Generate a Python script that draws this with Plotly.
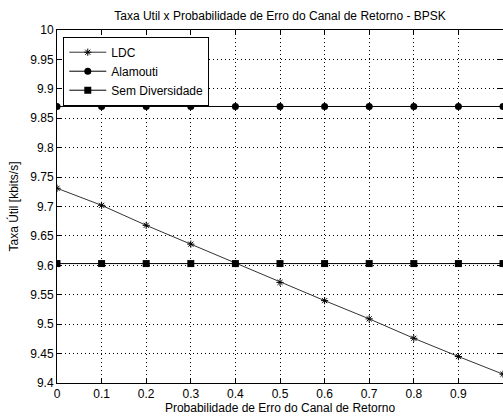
import plotly.graph_objects as go

# Feedback-channel error probability
prob_erro = [0.0, 0.1, 0.2, 0.3, 0.4, 0.5, 0.6, 0.7, 0.8, 0.9, 1.0]

# Useful rate [kbits/s] for each scheme
taxa_ldc = [9.731, 9.702, 9.668, 9.636, 9.603, 9.571, 9.540, 9.509, 9.476, 9.445, 9.415]
taxa_alamouti = [9.87] * 11
taxa_sem_div = [9.603] * 11

x_ticks = [0, 0.1, 0.2, 0.3, 0.4, 0.5, 0.6, 0.7, 0.8, 0.9, 1]
x_labels = ["0", "0.1", "0.2", "0.3", "0.4", "0.5", "0.6", "0.7", "0.8", "0.9", "1"]
y_ticks = [9.4, 9.45, 9.5, 9.55, 9.6, 9.65, 9.7, 9.75, 9.8, 9.85, 9.9, 9.95, 10]
y_labels = ["9.4", "9.45", "9.5", "9.55", "9.6", "9.65", "9.7", "9.75", "9.8",
            "9.85", "9.9", "9.95", "10"]

FONT = "Liberation Sans, Arial, Helvetica, sans-serif"
FS = 12

fig = go.Figure()
fig.add_trace(go.Scatter(
    x=prob_erro, y=taxa_ldc, name="LDC", mode="lines+markers",
    line=dict(color="#333333", width=1),
    marker=dict(symbol="asterisk-open", size=6, color="black",
                line=dict(color="black", width=1)),
))
fig.add_trace(go.Scatter(
    x=prob_erro, y=taxa_alamouti, name="Alamouti", mode="lines+markers",
    line=dict(color="black", width=1),
    marker=dict(symbol="circle", size=7, color="black"),
))
fig.add_trace(go.Scatter(
    x=prob_erro, y=taxa_sem_div, name="Sem Diversidade", mode="lines+markers",
    line=dict(color="black", width=1),
    marker=dict(symbol="square", size=7, color="black"),
))

axis_common = dict(
    showline=True, linecolor="black", linewidth=1, mirror="ticks",
    ticks="inside", ticklen=5, tickcolor="black", tickwidth=1,
    showgrid=True, gridcolor="black", gridwidth=1, griddash="1px,3px",
    zeroline=False, tickfont=dict(family=FONT, size=FS, color="black"),
)

fig.update_xaxes(
    range=[0, 1], tickmode="array", tickvals=x_ticks, ticktext=x_labels,
    title=dict(text="Probabilidade de Erro do Canal de Retorno",
               font=dict(family=FONT, size=FS, color="black"), standoff=2),
    **axis_common,
)
fig.update_yaxes(
    range=[9.4, 10], tickmode="array", tickvals=y_ticks, ticktext=y_labels,
    title=dict(text="Taxa Útil [kbits/s]",
               font=dict(family=FONT, size=FS, color="black"), standoff=9),
    **axis_common,
)

fig.update_layout(
    width=503, height=417,
    margin=dict(l=57, r=0, t=30, b=34),
    paper_bgcolor="white", plot_bgcolor="white",
    font=dict(family=FONT, size=FS, color="black"),
    title=dict(text="Taxa Util x Probabilidade de Erro do Canal de Retorno - BPSK",
               x=0.5, xref="paper", xanchor="center",
               y=0.962, yref="container", yanchor="middle",
               font=dict(family=FONT, size=FS, color="black")),
    legend=dict(x=0.0141, y=0.981, xanchor="left", yanchor="top",
                bgcolor="white", bordercolor="black", borderwidth=1,
                font=dict(family=FONT, size=FS, color="black"),
                itemwidth=37, tracegroupgap=0),
    showlegend=True,
)

fig.write_html("out.html")
